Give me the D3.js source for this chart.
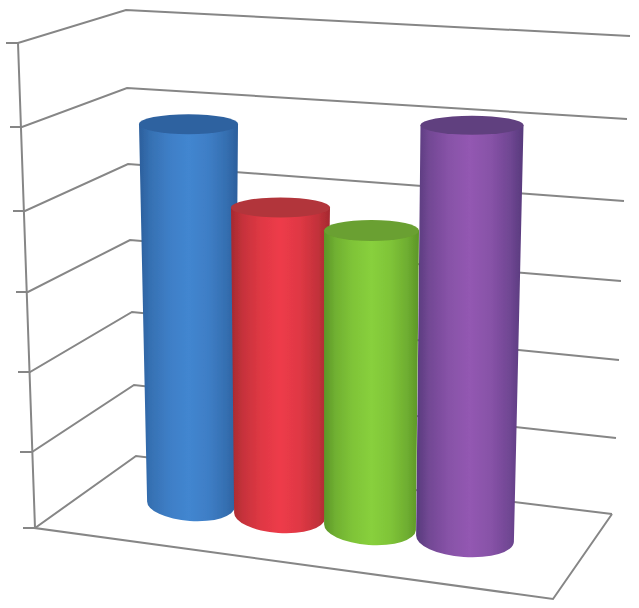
<!DOCTYPE html>
<html>
<head>
<meta charset="utf-8">
<style>body { margin: 0; background: #fff; }</style>
<script src="https://cdn.jsdelivr.net/npm/d3@7"></script>
</head>
<body>
<div id="chart"></div>
<script>
// data (the chart shows no labels)
const categories = ['A', 'B', 'C', 'D'];
const values = [4.87, 3.85, 3.66, 4.98];
const levels = [0, 1, 2, 3, 4, 5, 6];
const edgeColors = ['#2c5f9c', '#a52a30', '#5c9528', '#573a7c'];
const midColors = ['#4286d0', '#ee3b49', '#88d03c', '#9358b2'];
const lidColors = ['#2f62a0', '#b2353b', '#6aa030', '#61407f'];

const width = 639, height = 608;

const svg = d3.select('#chart').append('svg')
  .attr('width', width)
  .attr('height', height);

// the three edges of the box, each one a value -> pixel scale
const frontX = d3.scaleLinear().domain(levels).range([35, 32, 30, 28, 25, 22, 18]);
const frontY = d3.scaleLinear().domain(levels).range([528, 452, 372, 292, 211, 127, 43]);
const backX = d3.scaleLinear().domain(levels).range([136, 134, 132, 130, 128, 127, 126]);
const backY = d3.scaleLinear().domain(levels).range([456, 385, 312, 240, 164, 88, 10]);
const rightX = d3.scaleLinear().domain(levels).range([612, 616, 619, 621, 624, 627, 630]);
const rightY = d3.scaleLinear().domain(levels).range([514, 438, 360, 281, 201, 119, 36]);
const tickLen = 12;
const floorCorner = [553, 599];

// cylinder placement by category, perspective makes these uneven
const idx = categories.map((d, i) => i);
const topCx = d3.scaleOrdinal().domain(categories).range([188.5, 280.5, 371.5, 472]);
const topRx = d3.scaleOrdinal().domain(categories).range([49.5, 49.5, 47.5, 51.5]);
const topRy = d3.scaleOrdinal().domain(categories).range([10, 10, 10.5, 9.5]);
const baseCx = d3.scaleOrdinal().domain(categories).range([191, 279.5, 370, 465]);
const baseRx = d3.scaleOrdinal().domain(categories).range([44, 45.5, 46, 49]);
const baseRy = d3.scaleOrdinal().domain(categories).range([17, 17.5, 18, 18.5]);
const baseCy = d3.scalePoint().domain(categories).range([504, 538.5]);
const unit = d3.scaleOrdinal().domain(categories).range([78, 80, 81, 83]);
const tilt = 4 * Math.PI / 180;

const defs = svg.append('defs');
defs.append('filter').attr('id', 'soft')
  .append('feGaussianBlur').attr('stdDeviation', 0.5);

const grads = defs.selectAll('linearGradient')
  .data(idx)
  .enter()
  .append('linearGradient')
  .attr('id', i => 'side' + i);
grads.selectAll('stop')
  .data(i => {
    const mix = d3.interpolateRgb(edgeColors[i], midColors[i]);
    return [[0, edgeColors[i]], [0.12, mix(0.45)], [0.3, mix(0.8)], [0.5, midColors[i]],
            [0.7, mix(0.8)], [0.88, mix(0.4)], [1, edgeColors[i]]];
  })
  .enter()
  .append('stop')
  .attr('offset', d => d[0])
  .attr('stop-color', d => d[1]);

const g = svg.append('g').attr('filter', 'url(#soft)');
const line = d3.line();

// walls
g.selectAll('.grid')
  .data(levels)
  .enter()
  .append('path')
  .attr('class', 'grid')
  .attr('d', d => line([
    [frontX(d) - tickLen, frontY(d)],
    [frontX(d), frontY(d)],
    [backX(d), backY(d)],
    [rightX(d), rightY(d)]
  ]));

// left edge and front of the floor
g.append('path')
  .attr('class', 'grid')
  .attr('d', line([
    [frontX(6), frontY(6)],
    [frontX(0), frontY(0)],
    floorCorner,
    [rightX(0), rightY(0)]
  ]));

g.selectAll('.grid')
  .attr('fill', 'none')
  .attr('stroke', '#868686')
  .attr('stroke-width', 2);

// cylinders, later ones sit on top of earlier ones
function sidePath(c, i) {
  const cy = baseCy(c);
  const top = cy - values[i] * unit(c);
  const rx = baseRx(c), ry = baseRy(c), cx = baseCx(c);
  const dx = rx * Math.cos(tilt), dy = rx * Math.sin(tilt);
  return `M${topCx(c) - topRx(c)},${top}` +
    `L${cx - dx},${cy - dy}` +
    `A${rx},${ry} 4 0 0 ${cx + dx},${cy + dy}` +
    `L${topCx(c) + topRx(c)},${top}Z`;
}

const bars = g.selectAll('.bar')
  .data(categories)
  .enter()
  .append('g')
  .attr('class', 'bar');

bars.append('path')
  .attr('d', sidePath)
  .attr('fill', (c, i) => `url(#side${i})`);

bars.append('ellipse')
  .attr('cx', c => topCx(c))
  .attr('cy', (c, i) => baseCy(c) - values[i] * unit(c))
  .attr('rx', c => topRx(c))
  .attr('ry', c => topRy(c))
  .attr('fill', (c, i) => lidColors[i]);
</script>
</body>
</html>
